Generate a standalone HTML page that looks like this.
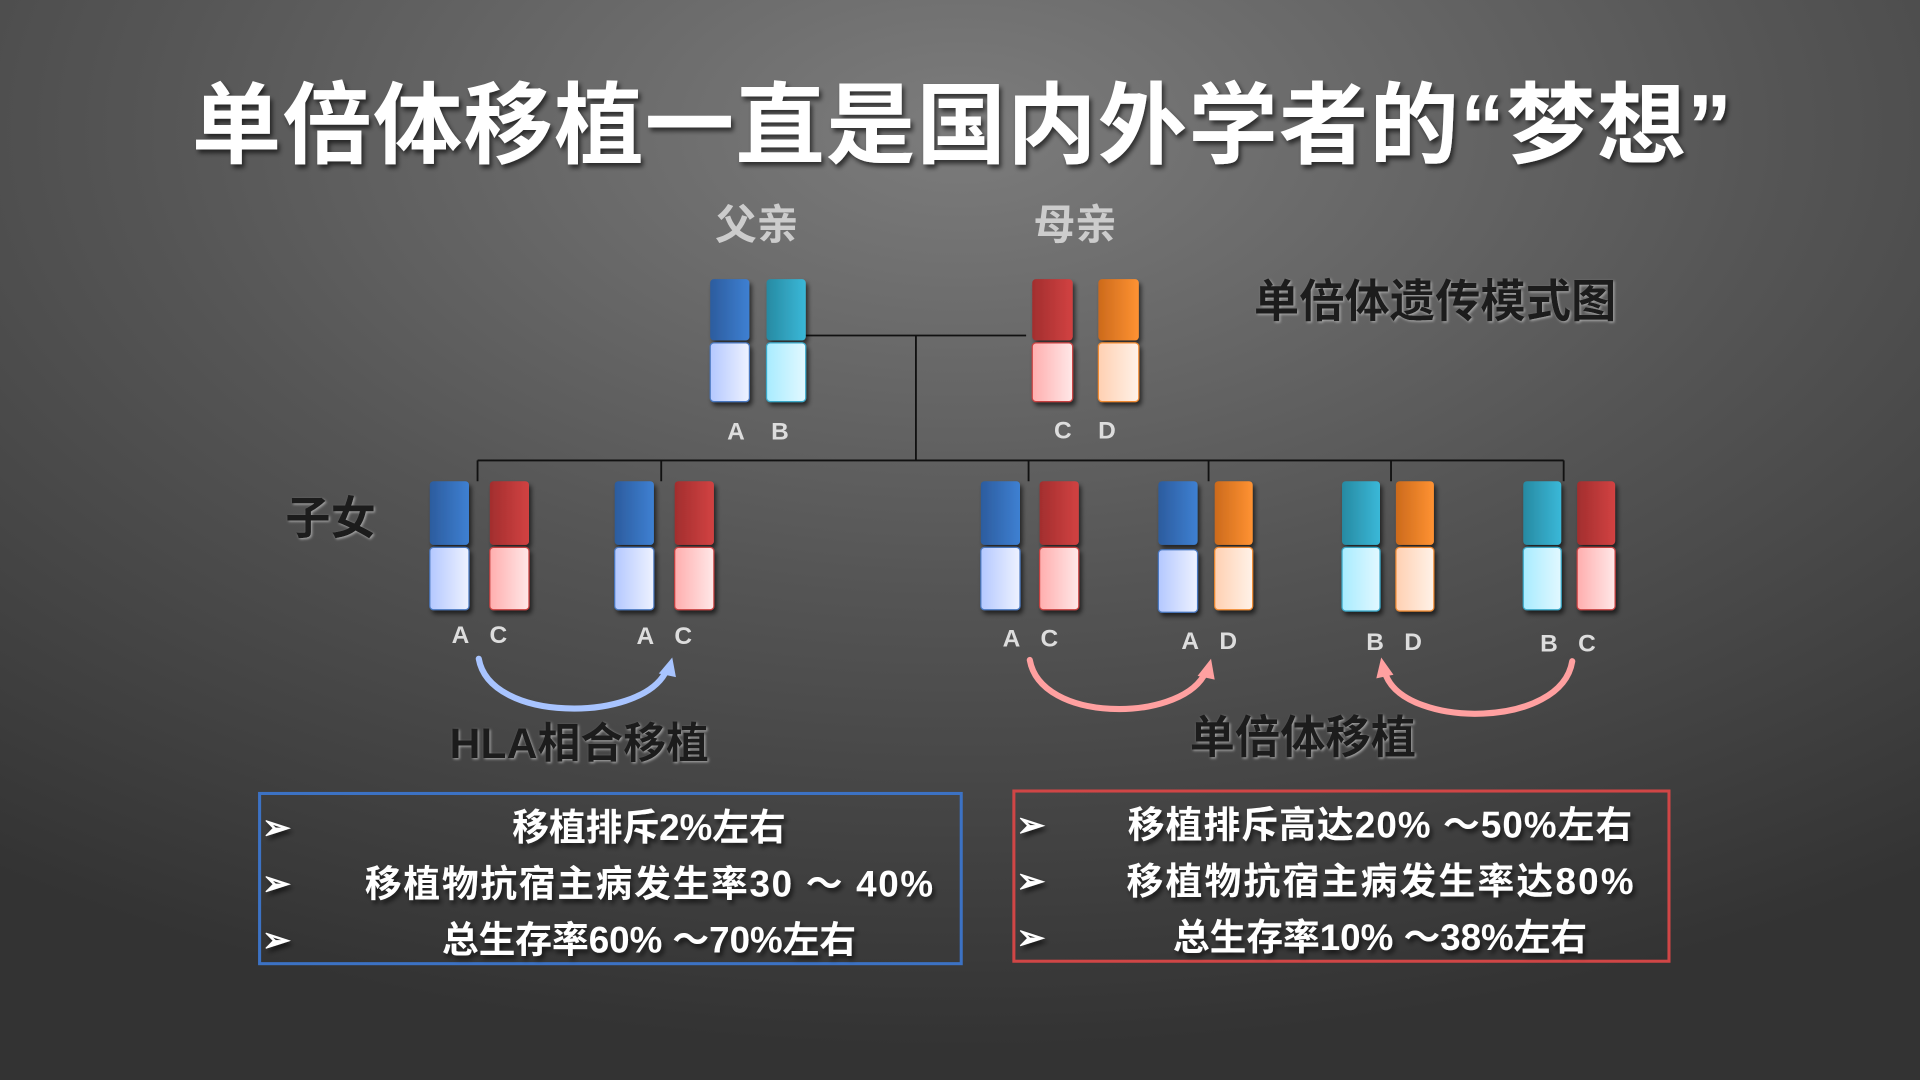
<!DOCTYPE html>
<html><head><meta charset="utf-8"><style>
html,body{margin:0;padding:0;width:1920px;height:1080px;overflow:hidden;background:#444}
svg{display:block}
text{font-family:"Liberation Sans","Noto Sans CJK SC",sans-serif;font-weight:bold}
</style></head><body>
<svg width="1920" height="1080" viewBox="0 0 1568 882" xmlns="http://www.w3.org/2000/svg">
<defs>
<radialGradient id="bg" cx="0.5" cy="0.12" r="0.85">
<stop offset="0" stop-color="#7c7c7c"/><stop offset="0.5" stop-color="#555"/><stop offset="1" stop-color="#333"/></radialGradient>
<linearGradient id="bT" x1="0" x2="1"><stop offset="0" stop-color="#2c5c9e"/><stop offset="1" stop-color="#3e80d2"/></linearGradient>
<linearGradient id="bB" x1="0" x2="1"><stop offset="0" stop-color="#b4c8ff"/><stop offset="1" stop-color="#eef2ff"/></linearGradient>
<linearGradient id="tT" x1="0" x2="1"><stop offset="0" stop-color="#278aa2"/><stop offset="1" stop-color="#3ab8d8"/></linearGradient>
<linearGradient id="tB" x1="0" x2="1"><stop offset="0" stop-color="#a8ecff"/><stop offset="1" stop-color="#e2f8ff"/></linearGradient>
<linearGradient id="rT" x1="0" x2="1"><stop offset="0" stop-color="#a22e2e"/><stop offset="1" stop-color="#d24242"/></linearGradient>
<linearGradient id="rB" x1="0" x2="1"><stop offset="0" stop-color="#ffaeae"/><stop offset="1" stop-color="#ffe8e8"/></linearGradient>
<linearGradient id="oT" x1="0" x2="1"><stop offset="0" stop-color="#cc6a1c"/><stop offset="1" stop-color="#ff9232"/></linearGradient>
<linearGradient id="oB" x1="0" x2="1"><stop offset="0" stop-color="#ffd0b2"/><stop offset="1" stop-color="#fff2e8"/></linearGradient>
<filter id="sh" x="-20%" y="-20%" width="140%" height="140%"><feDropShadow dx="2" dy="3" stdDeviation="2" flood-color="#000" flood-opacity="0.6"/></filter>
<filter id="gl" x="-20%" y="-20%" width="140%" height="140%"><feDropShadow dx="1" dy="1" stdDeviation="1" flood-color="#bbb" flood-opacity="0.8"/></filter>
</defs>
<rect width="1568" height="882" fill="url(#bg)"/>

<text x="786" y="128" text-anchor="middle" font-size="73" letter-spacing="1" fill="#fff" filter="url(#sh)">单倍体移植一直是国内外学者的“梦想”</text>
<text x="618" y="195" text-anchor="middle" font-size="34" fill="#ccc">父亲</text>
<text x="878" y="195" text-anchor="middle" font-size="34" fill="#ccc">母亲</text>
<text x="1172" y="259" text-anchor="middle" font-size="37" fill="#1e1e1e" font-weight="normal" filter="url(#gl)">单倍体遗传模式图</text>
<text x="270" y="436" text-anchor="middle" font-size="37" fill="#1e1e1e" font-weight="normal" filter="url(#gl)">子女</text>

<g stroke="#111" stroke-width="1.5" fill="none">
<path d="M658 274H838M748 274V376M390 376H1277"/>
<path d="M390 376V393M540 376V393M840 376V393M987 376V393M1136 376V393M1277 376V393"/>
</g>

<g filter="url(#sh)">
<rect x="580" y="228" width="32" height="50" rx="3" fill="url(#bT)"/><rect x="580" y="280" width="32" height="48" rx="3" fill="url(#bB)" stroke="#4a78c0"/>
<rect x="626" y="228" width="32" height="50" rx="3" fill="url(#tT)"/><rect x="626" y="280" width="32" height="48" rx="3" fill="url(#tB)" stroke="#3aa8c8"/>
<rect x="843" y="228" width="33" height="50" rx="3" fill="url(#rT)"/><rect x="843" y="280" width="33" height="48" rx="3" fill="url(#rB)" stroke="#c84040"/>
<rect x="897" y="228" width="33" height="50" rx="3" fill="url(#oT)"/><rect x="897" y="280" width="33" height="48" rx="3" fill="url(#oB)" stroke="#f08a30"/>
<rect x="351" y="393" width="32" height="52" rx="3" fill="url(#bT)"/><rect x="351" y="447" width="32" height="51" rx="3" fill="url(#bB)" stroke="#4a78c0"/>
<rect x="400" y="393" width="32" height="52" rx="3" fill="url(#rT)"/><rect x="400" y="447" width="32" height="51" rx="3" fill="url(#rB)" stroke="#c84040"/>
<rect x="502" y="393" width="32" height="52" rx="3" fill="url(#bT)"/><rect x="502" y="447" width="32" height="51" rx="3" fill="url(#bB)" stroke="#4a78c0"/>
<rect x="551" y="393" width="32" height="52" rx="3" fill="url(#rT)"/><rect x="551" y="447" width="32" height="51" rx="3" fill="url(#rB)" stroke="#c84040"/>
<rect x="801" y="393" width="32" height="52" rx="3" fill="url(#bT)"/><rect x="801" y="447" width="32" height="51" rx="3" fill="url(#bB)" stroke="#4a78c0"/>
<rect x="849" y="393" width="32" height="52" rx="3" fill="url(#rT)"/><rect x="849" y="447" width="32" height="51" rx="3" fill="url(#rB)" stroke="#c84040"/>
<rect x="946" y="393" width="32" height="52" rx="3" fill="url(#bT)"/><rect x="946" y="449" width="32" height="51" rx="3" fill="url(#bB)" stroke="#4a78c0"/>
<rect x="992" y="393" width="31" height="52" rx="3" fill="url(#oT)"/><rect x="992" y="447" width="31" height="51" rx="3" fill="url(#oB)" stroke="#f08a30"/>
<rect x="1096" y="393" width="31" height="52" rx="3" fill="url(#tT)"/><rect x="1096" y="447" width="31" height="52" rx="3" fill="url(#tB)" stroke="#3aa8c8"/>
<rect x="1140" y="393" width="31" height="52" rx="3" fill="url(#oT)"/><rect x="1140" y="447" width="31" height="52" rx="3" fill="url(#oB)" stroke="#f08a30"/>
<rect x="1244" y="393" width="31" height="52" rx="3" fill="url(#tT)"/><rect x="1244" y="447" width="31" height="51" rx="3" fill="url(#tB)" stroke="#3aa8c8"/>
<rect x="1288" y="393" width="31" height="52" rx="3" fill="url(#rT)"/><rect x="1288" y="447" width="31" height="51" rx="3" fill="url(#rB)" stroke="#c84040"/>
</g>

<g font-size="20" fill="#ddd" text-anchor="middle">
<text x="601" y="359">A</text><text x="637" y="359">B</text>
<text x="868" y="358">C</text><text x="904" y="358">D</text>
<text x="376" y="525">A</text><text x="407" y="525">C</text>
<text x="527" y="526">A</text><text x="558" y="526">C</text>
<text x="826" y="528">A</text><text x="857" y="528">C</text>
<text x="972" y="530">A</text><text x="1003" y="530">D</text>
<text x="1123" y="531">B</text><text x="1154" y="531">D</text>
<text x="1265" y="532">B</text><text x="1296" y="532">C</text>
</g>

<g fill="none" stroke-width="5" stroke-linecap="round">
<path d="M391 538 C 400 590, 520 590, 543 550" stroke="#a8c4ff"/>
<path d="M841 539 C 850 590, 960 590, 983 552" stroke="#ffa0a0"/>
<path d="M1284 540 C 1275 595, 1150 595, 1132 552" stroke="#ffa0a0"/>
</g>
<polygon points="549,537 538,550 552,553" fill="#a8c4ff"/>
<polygon points="989,538 978,552 992,555" fill="#ffa0a0"/>
<polygon points="1128,537 1124,554 1138,551" fill="#ffa0a0"/>

<text x="473" y="619" text-anchor="middle" font-size="35" fill="#1e1e1e" filter="url(#gl)">HLA相合移植</text>
<text x="1064" y="615" text-anchor="middle" font-size="37" fill="#1e1e1e" font-weight="normal" filter="url(#gl)">单倍体移植</text>

<rect x="212" y="648" width="573" height="139" fill="none" stroke="#3c72c4" stroke-width="2.5"/>
<rect x="828" y="646" width="535" height="139" fill="none" stroke="#d04646" stroke-width="2.5"/>

<g font-size="30" fill="#fff" filter="url(#sh)">
<text x="214" y="685" font-size="28">➢</text><text x="214" y="731" font-size="28">➢</text><text x="214" y="777" font-size="28">➢</text>
<text x="830" y="683" font-size="28">➢</text><text x="830" y="729" font-size="28">➢</text><text x="830" y="775" font-size="28">➢</text>
<g text-anchor="middle">
<text x="530" y="686">移植排斥2%左右</text>
<text x="530" y="732" textLength="464">移植物抗宿主病发生率30 ～ 40%</text>
<text x="530" y="778">总生存率60% ～70%左右</text>
<text x="1127" y="684" textLength="412">移植排斥高达20% ～50%左右</text>
<text x="1127" y="730" textLength="414">移植物抗宿主病发生率达80%</text>
<text x="1127" y="776">总生存率10% ～38%左右</text>
</g></g>
</svg>
</body></html>
